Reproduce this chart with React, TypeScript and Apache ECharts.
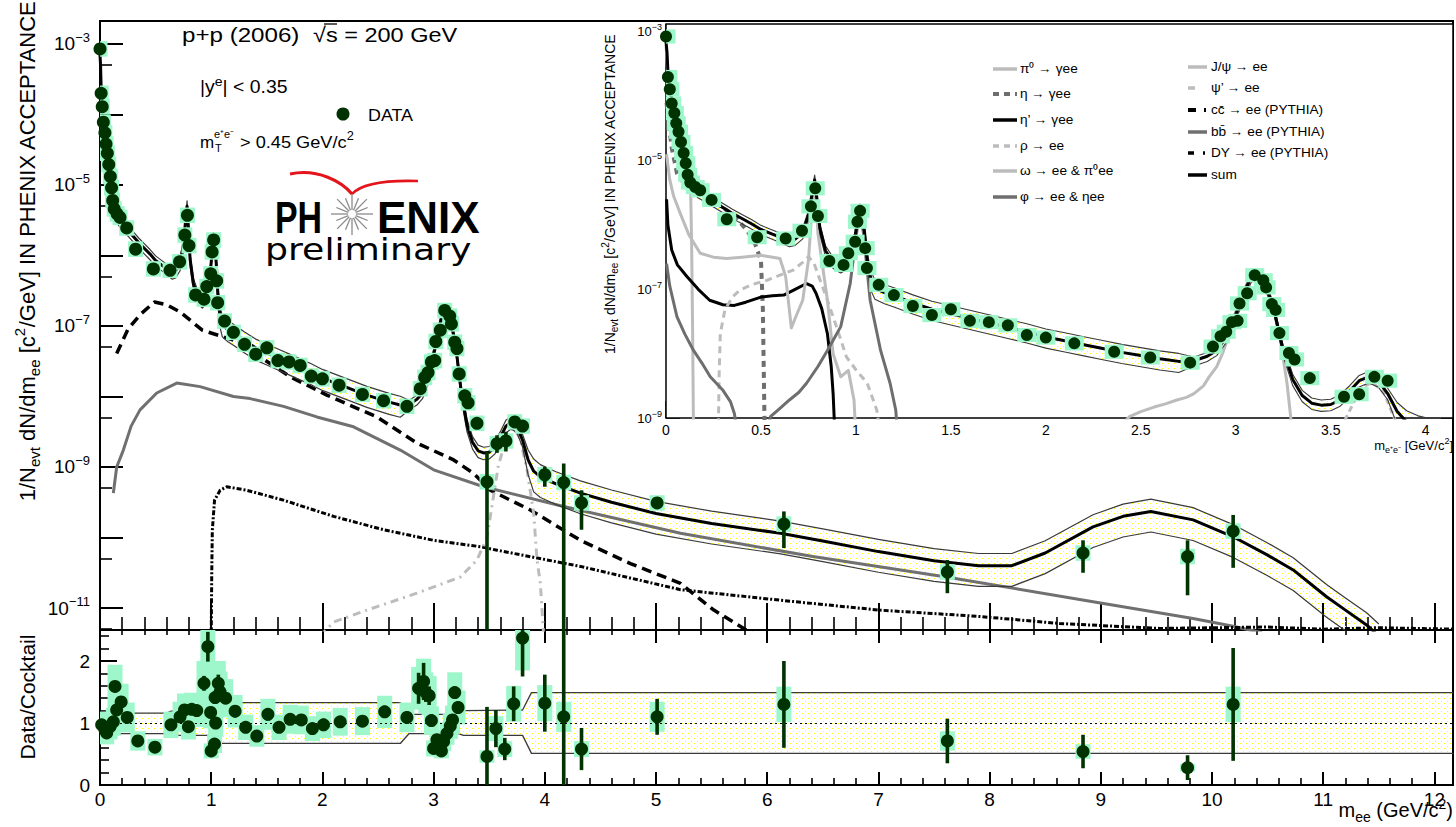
import React, { useEffect, useRef } from "react";
import * as echarts from "echarts";

const FONT = '"Liberation Sans", Arial, Helvetica, sans-serif';
const DARK = "#003300";
const MINT = "#9ef7cb";

// ---------------- values ----------------
// spectrum: [m_ee (GeV/c^2), log10(1/Nevt dN/dm_ee)]
const dataPoints = [
  [0, -3.07], [0.01, -3.7], [0.02, -3.89], [0.03, -4.11], [0.044, -4.26], [0.054, -4.42], [0.066, -4.55],
  [0.079, -4.71], [0.093, -4.88], [0.104, -5.04], [0.114, -5.22], [0.128, -5.34], [0.154, -5.41], [0.18, -5.46],
  [0.24, -5.61], [0.32, -5.91], [0.48, -6.19], [0.63, -6.21], [0.716, -6.09], [0.763, -5.71], [0.786, -5.43],
  [0.8, -5.86], [0.86, -6.56], [0.935, -6.62], [0.96, -6.44], [0.996, -6.26], [1.008, -5.95], [1.022, -5.78],
  [1.049, -6.36], [1.058, -6.67], [1.12, -6.93], [1.2, -7.09], [1.3, -7.26], [1.4, -7.4], [1.5, -7.31],
  [1.6, -7.49], [1.7, -7.51], [1.8, -7.56], [1.9, -7.71], [2.0, -7.75], [2.15, -7.84], [2.36, -7.97],
  [2.55, -8.06], [2.76, -8.14], [2.88, -7.89], [2.92, -7.73], [2.95, -7.66], [2.98, -7.51], [3.01, -7.49],
  [3.02, -7.22], [3.06, -7.06], [3.1, -6.78], [3.145, -6.86], [3.16, -6.97], [3.19, -7.23], [3.21, -7.32],
  [3.23, -7.68], [3.28, -7.99], [3.31, -8.09], [3.39, -8.38], [3.48, -9.21], [3.57, -8.67], [3.65, -8.63],
  [3.73, -8.36], [3.8, -8.42], [4.0, -9.11], [4.17, -9.22], [4.33, -9.51], [5.01, -9.51], [6.15, -9.81],
  [7.62, -10.49], [8.84, -10.22], [9.78, -10.27], [10.19, -9.91],
];
// visible statistical error bars: [m_ee, log10 low, log10 high]
const dataErrors = [
  [3.48, -11.5, -8.78], [3.57, -8.8, -8.55], [3.65, -8.78, -8.5], [4.0, -9.28, -9.0], [4.17, -11.5, -8.95],
  [4.33, -9.89, -9.33], [5.01, -9.57, -9.46], [6.15, -10.15, -9.63], [7.62, -10.79, -10.32],
  [8.84, -10.5, -10.04], [9.78, -10.82, -10.04], [10.19, -10.43, -9.68],
];
// cocktail sum
const sumCurve = [
  [0, -3.15], [0.005, -3.3], [0.01, -3.6], [0.02, -3.85], [0.03, -4.05], [0.04, -4.2], [0.06, -4.5], [0.08, -4.75],
  [0.1, -5.0], [0.12, -5.25], [0.14, -5.42], [0.17, -5.5], [0.2, -5.55], [0.25, -5.64], [0.3, -5.73], [0.35, -5.82],
  [0.4, -5.9], [0.45, -5.98], [0.5, -6.07], [0.55, -6.13], [0.6, -6.19], [0.65, -6.24], [0.68, -6.22], [0.72, -6.12],
  [0.75, -5.85], [0.77, -5.5], [0.783, -5.3], [0.795, -5.6], [0.81, -6.05], [0.84, -6.4], [0.88, -6.58],
  [0.92, -6.65], [0.95, -6.6], [0.98, -6.4], [1.0, -6.1], [1.01, -5.85], [1.02, -5.75], [1.03, -5.8], [1.045, -6.1],
  [1.06, -6.55], [1.08, -6.85], [1.1, -6.98], [1.15, -7.05], [1.2, -7.1], [1.3, -7.21], [1.4, -7.31], [1.5, -7.38],
  [1.6, -7.45], [1.7, -7.52], [1.8, -7.59], [1.9, -7.66], [2.0, -7.74], [2.1, -7.8], [2.2, -7.86], [2.3, -7.92],
  [2.4, -7.98], [2.5, -8.03], [2.6, -8.08], [2.7, -8.12], [2.78, -8.11], [2.85, -8.04], [2.9, -7.95], [2.95, -7.75],
  [3.0, -7.4], [3.05, -7.02], [3.08, -6.82], [3.1, -6.75], [3.13, -6.78], [3.16, -6.95], [3.2, -7.3], [3.25, -7.95],
  [3.3, -8.4], [3.35, -8.65], [3.4, -8.77], [3.45, -8.8], [3.5, -8.79], [3.55, -8.72], [3.6, -8.58], [3.65, -8.42],
  [3.7, -8.36], [3.75, -8.42], [3.8, -8.62], [3.85, -8.9], [3.9, -9.06], [3.96, -9.14], [4.1, -9.24], [4.32, -9.37],
  [4.6, -9.5], [5.0, -9.66], [5.5, -9.8], [6.12, -9.94], [6.5, -10.05], [7.0, -10.2], [7.5, -10.33], [7.9, -10.4],
  [8.2, -10.4], [8.5, -10.22], [8.93, -9.85], [9.2, -9.7], [9.45, -9.63], [9.83, -9.75], [10.19, -9.99],
  [10.5, -10.25], [10.73, -10.46], [11.03, -10.84], [11.2, -11.03], [11.39, -11.24], [11.5, -11.4],
];
// cocktail systematic band (ratio units)
const bandUpper = [
  [0, 1.16], [0.6, 1.16], [0.64, 1.19], [1.03, 1.19], [1.07, 1.33], [2.7, 1.33], [2.78, 1.14], [3.22, 1.14],
  [3.27, 1.2], [3.8, 1.21], [3.88, 1.49], [12.17, 1.49],
];
const bandLower = [
  [0, 0.83], [0.6, 0.83], [0.64, 0.8], [1.03, 0.8], [1.07, 0.67], [2.7, 0.67], [2.78, 0.83], [3.22, 0.83],
  [3.27, 0.8], [3.8, 0.8], [3.88, 0.51], [12.17, 0.51],
];
// heavy flavour and Drell-Yan (main panel)
const ccbar = [
  [0.15, -7.39], [0.25, -7.05], [0.36, -6.84], [0.49, -6.66], [0.6, -6.7], [0.72, -6.8], [0.92, -7.06], [1.2, -7.2],
  [1.45, -7.45], [1.71, -7.72], [2.04, -7.98], [2.49, -8.29], [2.85, -8.66], [3.18, -8.9], [3.36, -9.09],
  [3.51, -9.33], [3.87, -9.61], [4.32, -10.04], [4.77, -10.37], [5.22, -10.65], [5.52, -11.03], [5.79, -11.29],
  [5.9, -11.4],
];
const bbbar = [
  [0.12, -9.37], [0.15, -9.0], [0.21, -8.76], [0.28, -8.42], [0.36, -8.19], [0.51, -7.95], [0.69, -7.81],
  [0.9, -7.86], [1.2, -8.0], [1.35, -8.03], [1.65, -8.14], [1.95, -8.29], [2.28, -8.43], [2.7, -8.76], [3.0, -9.04],
  [3.45, -9.28], [4.17, -9.56], [5.22, -9.94], [6.41, -10.27], [7.61, -10.56], [8.93, -10.91], [9.83, -11.15],
  [10.19, -11.26], [10.45, -11.35],
];
const drellYan = [
  [1.0, -11.4], [1.005, -10.5], [1.01, -9.9], [1.03, -9.47], [1.08, -9.33], [1.14, -9.28], [1.32, -9.33],
  [1.65, -9.47], [2.1, -9.7], [2.55, -9.89], [3.0, -10.04], [3.42, -10.13], [3.57, -10.18], [4.32, -10.41],
  [5.22, -10.74], [6.12, -10.89], [7.01, -11.03], [7.91, -11.12], [8.63, -11.22], [9.53, -11.29], [10.5, -11.27],
  [11.0, -11.3], [11.5, -11.28], [12.17, -11.3],
];
const jpsi = [
  [2.3, -9.4], [2.44, -8.98], [2.5, -8.9], [2.57, -8.83], [2.63, -8.78], [2.69, -8.72], [2.74, -8.68], [2.78, -8.62],
  [2.83, -8.5], [2.86, -8.36], [2.9, -8.2], [2.93, -8.0], [2.96, -7.75], [2.99, -7.43], [3.03, -7.1], [3.06, -6.91],
  [3.1, -6.72], [3.13, -6.78], [3.16, -6.91], [3.2, -7.3], [3.23, -7.69], [3.27, -8.46], [3.29, -9.0], [3.31, -9.5],
];
const psiPrime = [
  [1.98, -11.4], [2.1, -11.2], [2.4, -11.03], [2.85, -10.79], [3.24, -10.56], [3.39, -10.32], [3.48, -10.0],
  [3.53, -9.5], [3.58, -9.0], [3.63, -8.71], [3.68, -8.5], [3.72, -8.45], [3.78, -8.6], [3.84, -9.04], [3.9, -9.66],
  [3.93, -10.32], [3.96, -10.65], [3.99, -11.4],
];
// hadronic cocktail (inset)
const pi0 = [
  [0, -3.2], [0.01, -3.65], [0.02, -3.9], [0.04, -4.25], [0.06, -4.55], [0.08, -4.8], [0.1, -5.05], [0.12, -5.3],
  [0.13, -5.5], [0.135, -6.3], [0.14, -7.6], [0.145, -9.3],
];
const eta = [
  [0.003, -4.1], [0.01, -4.32], [0.03, -4.8], [0.058, -5.2], [0.1, -5.38], [0.15, -5.45], [0.2, -5.53], [0.25, -5.63],
  [0.3, -5.73], [0.36, -5.86], [0.43, -6.1], [0.47, -6.3], [0.5, -6.55], [0.51, -7.3], [0.52, -9.3],
];
const etaPrime = [
  [0.003, -5.6], [0.01, -6.0], [0.03, -6.39], [0.06, -6.62], [0.11, -6.8], [0.17, -7.0], [0.23, -7.17], [0.3, -7.24],
  [0.36, -7.25], [0.42, -7.2], [0.5, -7.12], [0.56, -7.1], [0.62, -7.09], [0.68, -7.0], [0.74, -6.91], [0.77, -6.95],
  [0.79, -7.06], [0.82, -7.3], [0.85, -7.69], [0.87, -8.2], [0.88, -8.62], [0.89, -9.3],
];
const rho = [
  [0.275, -9.3], [0.28, -8.3], [0.286, -7.69], [0.31, -7.32], [0.35, -7.12], [0.39, -7.01], [0.45, -6.93],
  [0.53, -6.86], [0.6, -6.78], [0.67, -6.7], [0.72, -6.58], [0.75, -6.49], [0.78, -6.6], [0.85, -7.17], [0.9, -7.6],
  [0.95, -8.05], [1.0, -8.25], [1.06, -8.46], [1.11, -8.88], [1.13, -9.3],
];
const omega = [
  [0.003, -4.9], [0.02, -5.3], [0.04, -5.55], [0.075, -5.82], [0.12, -6.15], [0.18, -6.44], [0.25, -6.5],
  [0.32, -6.52], [0.4, -6.5], [0.5, -6.47], [0.6, -6.52], [0.63, -6.8], [0.66, -7.6], [0.69, -7.38], [0.72, -7.17],
  [0.75, -6.55], [0.77, -5.7], [0.78, -5.4], [0.79, -5.6], [0.8, -6.13], [0.85, -7.17], [0.88, -8.0], [0.92, -8.36],
  [0.96, -8.26], [0.99, -8.72], [1.0, -9.3],
];
const phi = [
  [0.003, -6.6], [0.02, -6.95], [0.058, -7.43], [0.1, -7.7], [0.145, -7.95], [0.19, -8.15], [0.233, -8.36],
  [0.3, -8.57], [0.34, -8.75], [0.36, -8.93], [0.38, -9.3], [0.45, -9.6], [0.53, -9.3], [0.55, -8.98], [0.6, -8.85],
  [0.65, -8.72], [0.7, -8.6], [0.74, -8.46], [0.8, -8.2], [0.85, -7.95], [0.92, -7.58], [0.97, -6.91], [1.0, -6.2],
  [1.02, -5.77], [1.04, -6.13], [1.075, -7.17], [1.13, -7.95], [1.18, -8.46], [1.21, -8.88], [1.22, -9.3],
];
// ratio panel: [m_ee, data/cocktail, stat error]
const ratioPoints = [
  [0.015, 0.97, 0.05], [0.045, 0.89, 0.05], [0.06, 0.84, 0.05], [0.09, 0.94, 0.05], [0.12, 1.02, 0.05],
  [0.135, 1.59, 0.08], [0.15, 1.21, 0.06], [0.19, 1.34, 0.06], [0.245, 1.09, 0.06], [0.34, 0.71, 0.05],
  [0.494, 0.61, 0.05], [0.638, 0.97, 0.06], [0.72, 1.1, 0.06], [0.76, 1.21, 0.06], [0.795, 0.94, 0.06],
  [0.825, 1.22, 0.06], [0.87, 1.2, 0.06], [0.935, 1.64, 0.12], [0.97, 2.23, 0.24], [0.995, 1.17, 0.1],
  [1.0, 0.55, 0.06], [1.03, 0.66, 0.06], [1.04, 1.0, 0.06], [1.035, 1.41, 0.1], [1.064, 1.64, 0.14],
  [1.08, 1.5, 0.08], [1.13, 1.4, 0.08], [1.215, 1.19, 0.1], [1.31, 0.93, 0.08], [1.41, 0.79, 0.08],
  [1.51, 1.14, 0.1], [1.61, 0.93, 0.08], [1.71, 1.06, 0.08], [1.81, 1.05, 0.08], [1.91, 0.91, 0.08],
  [2.01, 0.97, 0.1], [2.16, 1.02, 0.08], [2.36, 1.03, 0.08], [2.56, 1.18, 0.1], [2.76, 1.09, 0.1],
  [2.865, 1.56, 0.25], [2.91, 1.67, 0.3], [2.93, 1.49, 0.15], [2.96, 1.44, 0.15], [2.98, 1.04, 0.1],
  [3.0, 0.59, 0.05], [3.03, 0.73, 0.05], [3.07, 0.55, 0.05], [3.09, 0.7, 0.05], [3.12, 0.83, 0.05],
  [3.15, 0.95, 0.06], [3.17, 1.05, 0.06], [3.19, 1.49, 0.1], [3.22, 1.25, 0.1], [3.48, 0.46, 0.8],
  [3.56, 0.91, 0.3], [3.64, 0.58, 0.18], [3.72, 1.31, 0.28], [3.8, 2.37, 0.62], [4.0, 1.32, 0.46],
  [4.17, 1.1, 1.6], [4.33, 0.58, 0.34], [5.01, 1.1, 0.29], [6.15, 1.3, 0.7], [7.62, 0.71, 0.36],
  [8.84, 0.54, 0.27], [9.78, 0.28, 0.2], [10.19, 1.3, 0.91],
];

// ---------------- helpers ----------------
function interp(arr: number[][], x: number) {
  if (x <= arr[0][0]) return arr[0][1];
  for (let i = 1; i < arr.length; i++) {
    if (x <= arr[i][0]) {
      const [x0, y0] = arr[i - 1];
      const [x1, y1] = arr[i];
      return y0 + ((y1 - y0) * (x - x0)) / (x1 - x0);
    }
  }
  return arr[arr.length - 1][1];
}

function dotPattern() {
  const c = document.createElement("canvas");
  c.width = 6;
  c.height = 5;
  const g = c.getContext("2d")!;
  g.fillStyle = "#ffff00";
  g.fillRect(1, 1, 1, 1);
  g.fillRect(4, 3, 1, 1);
  return { image: c, repeat: "repeat", imageWidth: 6, imageHeight: 5 };
}

function richSet(size: number) {
  return {
    n: { fontSize: size, fontFamily: FONT, lineHeight: Math.round(size * 1.35), verticalAlign: "middle", fill: "#000", color: "#000" },
    sub: { fontSize: Math.round(size * 0.7), fontFamily: FONT, lineHeight: Math.round(size * 0.62), verticalAlign: "bottom", fill: "#000", color: "#000" },
    sup: { fontSize: Math.round(size * 0.7), fontFamily: FONT, lineHeight: Math.round(size * 0.5), verticalAlign: "top", fill: "#000", color: "#000" },
  };
}

function T(x: number, y: number, text: string, size: number, o: any = {}) {
  return {
    type: "text",
    x,
    y,
    z: 100,
    silent: true,
    scaleX: o.sx ?? 1,
    rotation: o.rot ?? 0,
    style: {
      text,
      fill: o.color ?? "#000",
      fontSize: size,
      fontFamily: o.family ?? FONT,
      fontWeight: o.weight ?? "normal",
      align: o.align ?? "left",
      verticalAlign: "middle",
      rich: o.rich,
    },
  };
}

function buildOption() {
  const pattern = dotPattern();
  const MX = [0, 12.167];
  const MY = [-11.312, -2.674];
  const RY = [0, 2.5];
  const IX = [0, 4.144];
  const IY = [-9, -2.876];
  const L5 = Math.log10(5);

  const steps = (a: number, b: number, s: number) => {
    const o: number[] = [];
    const n = Math.round((b - a) / s);
    for (let i = 0; i <= n; i++) o.push(+(a + i * s).toFixed(4));
    return o;
  };
  const inR = (arr: number[], r: number[]) => arr.filter((v) => v >= r[0] - 1e-9 && v <= r[1] + 1e-9);
  const isMult = (v: number, s: number) => Math.abs(v / s - Math.round(v / s)) < 1e-6;

  const mainXMajor = steps(0, 12, 1);
  const mainXMinor = inR(steps(0, 12.2, 0.2), MX).filter((v) => !isMult(v, 1));
  const mainYMajor = steps(-11, -3, 1);
  const mainYMinor = inR(steps(-12, -3, 1).map((v) => v + L5), MY);
  const ratioYMinor = steps(0, 2.4, 0.2).filter((v) => !isMult(v, 1));
  const insetXMajor = steps(0, 4, 0.5);
  const insetXMinor = inR(steps(0, 4.1, 0.1), IX).filter((v) => !isMult(v, 0.5));
  const insetYMajor = steps(-9, -3, 1);
  const insetYMinor = inR(steps(-9, -3, 1).map((v) => v + L5), IY);

  const expFmt = (v: number) => `{b|10}{s|${v < 0 ? "\u2212" + Math.abs(v) : v}}`;

  const ax = (grid: number, r: number[], pos: string, ticks: number[], len: number, w: number, label?: any) => ({
    type: "value",
    gridIndex: grid,
    min: r[0],
    max: r[1],
    position: pos,
    axisLine: { show: false, onZero: false },
    splitLine: { show: false },
    minorTick: { show: false },
    minorSplitLine: { show: false },
    axisPointer: { show: false },
    axisTick: { show: true, inside: true, length: len, customValues: ticks, lineStyle: { color: "#000", width: w } },
    axisLabel: label
      ? { show: true, showMinLabel: true, showMaxLabel: true, color: "#000", fontFamily: FONT, ...label }
      : { show: false },
  });

  const xAxis = [
    ax(0, MX, "bottom", mainXMajor, 27, 2),
    ax(0, MX, "bottom", mainXMinor, 13, 1.6),
    ax(1, MX, "bottom", mainXMajor, 13, 2, { customValues: mainXMajor, fontSize: 19, margin: 5 }),
    ax(1, MX, "bottom", mainXMinor, 7, 1.6),
    ax(1, MX, "top", mainXMajor, 13, 2),
    ax(1, MX, "top", mainXMinor, 5, 1.6),
    ax(2, IX, "bottom", insetXMajor, 17, 1.5, { customValues: insetXMajor, fontSize: 14, margin: 5 }),
    ax(2, IX, "bottom", insetXMinor, 8, 1.2),
    ax(2, IX, "top", insetXMajor, 17, 1.5),
    ax(2, IX, "top", insetXMinor, 7, 1.2),
  ];
  const yAxis = [
    ax(0, MY, "left", mainYMajor, 23, 2, {
      customValues: [-11, -9, -7, -5, -3],
      formatter: expFmt,
      margin: 10,
      rich: {
        b: { fontSize: 19, lineHeight: 26, fontFamily: FONT, color: "#000" },
        s: { fontSize: 13, lineHeight: 10, verticalAlign: "top", fontFamily: FONT, color: "#000" },
      },
    }),
    ax(0, MY, "left", mainYMinor, 12, 1.6),
    ax(1, RY, "left", [0, 1, 2], 17, 2, { customValues: [0, 1, 2], fontSize: 19, margin: 10 }),
    ax(1, RY, "left", ratioYMinor, 9, 1.6),
    ax(2, IY, "left", insetYMajor, 14, 1.5, {
      customValues: [-9, -7, -5, -3],
      formatter: expFmt,
      margin: 4,
      rich: {
        b: { fontSize: 13, lineHeight: 18, fontFamily: FONT, color: "#000" },
        s: { fontSize: 9, lineHeight: 7, verticalAlign: "top", fontFamily: FONT, color: "#000" },
      },
    }),
    ax(2, IY, "left", insetYMinor, 7, 1.2),
    ax(2, IY, "right", insetYMajor, 12, 1.5),
    ax(2, IY, "right", insetYMinor, 6, 1.2),
  ];

  const ln = (data: number[][], xi: number, yi: number, color: string, width: number, type: any = "solid", z = 2) => ({
    type: "line",
    xAxisIndex: xi,
    yAxisIndex: yi,
    data,
    symbol: "none",
    showSymbol: false,
    silent: true,
    clip: true,
    z,
    lineStyle: { color, width, type, cap: "butt", join: "round" },
  });

  const bandPoly = (upper: number[][], lower: number[][], xi: number, yi: number) => ({
    type: "custom",
    xAxisIndex: xi,
    yAxisIndex: yi,
    clip: true,
    silent: true,
    z: 1,
    data: [[upper[0][0], upper[0][1]]],
    renderItem: (_p: any, api: any) => ({
      type: "polygon",
      shape: {
        points: upper.map((p) => api.coord(p)).concat(lower.slice().reverse().map((p) => api.coord(p))),
      },
      style: { fill: pattern, stroke: "none" },
    }),
  });

  const boxes = (data: number[][], xi: number, yi: number, hw: number, hFn: (y: number) => number) => ({
    type: "custom",
    xAxisIndex: xi,
    yAxisIndex: yi,
    clip: true,
    silent: true,
    z: 3,
    data,
    renderItem: (_p: any, api: any) => {
      const x = api.value(0);
      const y = api.value(1);
      const h = hFn(y);
      const a = api.coord([x, y + h]);
      const b = api.coord([x, y - h]);
      return { type: "rect", shape: { x: a[0] - hw, y: a[1], width: 2 * hw, height: b[1] - a[1] }, style: { fill: MINT } };
    },
  });

  const bars = (data: number[][], xi: number, yi: number, ratio: boolean) => ({
    type: "custom",
    xAxisIndex: xi,
    yAxisIndex: yi,
    clip: true,
    silent: true,
    z: 4,
    data,
    renderItem: (_p: any, api: any) => {
      const x = api.value(0);
      let lo: number, hi: number;
      if (ratio) {
        lo = api.value(1) - api.value(2);
        hi = api.value(1) + api.value(2);
      } else {
        lo = api.value(1);
        hi = api.value(2);
      }
      const a = api.coord([x, hi]);
      const b = api.coord([x, lo]);
      return { type: "line", shape: { x1: a[0], y1: a[1], x2: b[0], y2: b[1] }, style: { stroke: DARK, lineWidth: 3.6 } };
    },
  });

  const pts = (data: number[][], xi: number, yi: number, size: number) => ({
    type: "scatter",
    xAxisIndex: xi,
    yAxisIndex: yi,
    data,
    symbol: "circle",
    symbolSize: size,
    silent: true,
    clip: true,
    z: 5,
    itemStyle: { color: DARK, opacity: 1 },
  });

  // band envelopes of the cocktail sum (sum x systematic factor)
  const sumUpper = sumCurve.map(([x, y]) => [x, y + Math.log10(interp(bandUpper, x))]);
  const sumLower = sumCurve.map(([x, y]) => [x, y + Math.log10(interp(bandLower, x))]);

  const LG = "#bcbcbc";
  const DG = "#6e6e6e";

  const series: any[] = [
    // ---- main panel ----
    bandPoly(sumUpper, sumLower, 0, 0),
    ln(ccbar, 0, 0, "#000", 3.5, [10, 6]),
    ln(bbbar, 0, 0, "#707070", 3),
    ln(drellYan, 0, 0, "#000", 3, [5, 2, 2, 2]),
    ln(psiPrime, 0, 0, LG, 3, [8, 5, 2, 5]),
    ln(sumUpper, 0, 0, "#3a3a3a", 1.2),
    ln(sumLower, 0, 0, "#3a3a3a", 1.2),
    ln(sumCurve, 0, 0, "#000", 3),
    boxes(dataPoints, 0, 0, 7.5, () => 0.11),
    bars(dataErrors, 0, 0, false),
    pts(dataPoints, 0, 0, 13),
    // ---- ratio panel ----
    bandPoly(bandUpper, bandLower, 2, 2),
    {
      ...ln(bandUpper, 2, 2, "#3a3a3a", 1.3),
      markLine: {
        silent: true,
        symbol: "none",
        label: { show: false },
        lineStyle: { type: [2, 3], color: "#000", width: 1 },
        data: [{ yAxis: 1 }],
      },
    },
    ln(bandLower, 2, 2, "#3a3a3a", 1.3),
    boxes(ratioPoints, 2, 2, 7.5, (y) => 0.22 * y),
    bars(ratioPoints, 2, 2, true),
    pts(ratioPoints, 2, 2, 13),
    // ---- inset ----
    ln(pi0, 6, 4, LG, 3, "solid", 6),
    ln(eta, 6, 4, DG, 4, [6, 5], 6),
    ln(etaPrime, 6, 4, "#000", 3, "solid", 6),
    ln(rho, 6, 4, LG, 3, [7, 5], 6),
    ln(omega, 6, 4, LG, 3, "solid", 6),
    ln(phi, 6, 4, DG, 3, "solid", 6),
    ln(jpsi, 6, 4, LG, 3, "solid", 6),
    ln(psiPrime, 6, 4, LG, 3, [6, 4], 6),
    { ...bandPoly(sumUpper, sumLower, 6, 4), z: 6 },
    ln(sumUpper, 6, 4, "#3a3a3a", 1.1, "solid", 7),
    ln(sumLower, 6, 4, "#3a3a3a", 1.1, "solid", 7),
    ln(sumCurve, 6, 4, "#000", 3, "solid", 7),
    { ...boxes(dataPoints, 6, 4, 9.5, () => 0.11), z: 8 },
    { ...pts(dataPoints, 6, 4, 12), z: 9 },
  ];

  // ---------------- annotations ----------------
  const g: any[] = [];
  g.push(
    T(27, 251, "{n|1/N}{sub|evt}{n| dN/dm}{sub|ee}{n| [c}{sup|2}{n|/GeV] IN PHENIX ACCEPTANCE}", 22, {
      rot: Math.PI / 2,
      align: "center",
      rich: richSet(22),
    })
  );
  g.push(T(27, 697, "Data/Cocktail", 21, { rot: Math.PI / 2, align: "center" }));
  g.push(T(1453, 810, "{n|m}{sub|ee}{n| (GeV/c}{sup|2}{n|)}", 20, { align: "right", rich: richSet(20) }));

  // header texts
  g.push(T(182, 35, "p+p (2006)", 21, { sx: 1.15 }));
  g.push(T(313, 35, "\u221As = 200 GeV", 21, { sx: 1.12 }));
  g.push({ type: "line", z: 100, silent: true, shape: { x1: 324, y1: 24, x2: 337, y2: 24 }, style: { stroke: "#000", lineWidth: 1.3 } });
  g.push(T(200, 87, "{n||y}{sup|e}{n|| < 0.35}", 18, { sx: 1.08, rich: richSet(18) }));
  g.push({ type: "circle", z: 100, silent: true, shape: { cx: 343, cy: 114, r: 6.5 }, style: { fill: DARK } });
  g.push(T(368, 115, "DATA", 17, { sx: 1.05 }));
  g.push(T(200, 142, "m", 17));
  g.push(T(214, 134, "e\u207Ae\u207B", 11));
  g.push(T(215, 148, "T", 11));
  g.push(T(240, 142, "{n|> 0.45 GeV/c}{sup|2}", 17, { sx: 1.07, rich: richSet(17) }));

  // PHENIX logo
  g.push(T(275, 217, "PH", 44, { weight: "bold", sx: 0.77 }));
  g.push(T(377, 217, "ENIX", 44, { weight: "bold", sx: 1.0 }));
  for (let i = 0; i < 16; i++) {
    const a = (i * Math.PI) / 8;
    const rr = i % 2 === 0 ? 21 : 17;
    g.push({
      type: "line",
      z: 100,
      silent: true,
      shape: { x1: 352 + 4 * Math.cos(a), y1: 214 + 4 * Math.sin(a), x2: 352 + rr * Math.cos(a), y2: 214 + rr * Math.sin(a) },
      style: { stroke: "#8c8c8c", lineWidth: 1.3 },
    });
  }
  g.push({
    type: "bezierCurve",
    z: 100,
    silent: true,
    shape: { x1: 290, y1: 174, cpx1: 318, cpy1: 168, cpx2: 342, cpy2: 182, x2: 352, y2: 194 },
    style: { stroke: "#e3141c", lineWidth: 3, fill: "none" },
  });
  g.push({
    type: "bezierCurve",
    z: 100,
    silent: true,
    shape: { x1: 352, y1: 194, cpx1: 362, cpy1: 183, cpx2: 385, cpy2: 180, x2: 418, y2: 181 },
    style: { stroke: "#e3141c", lineWidth: 2.6, fill: "none" },
  });
  g.push(T(265, 249, "preliminary", 31, { family: '"DejaVu Sans", sans-serif', sx: 1.17 }));

  // inset titles
  g.push(
    T(610, 194, "{n|1/N}{sub|evt}{n| dN/dm}{sub|ee}{n| [c}{sup|2}{n|/GeV] IN PHENIX ACCEPTANCE}", 14, {
      rot: Math.PI / 2,
      align: "center",
      rich: richSet(14),
    })
  );
  g.push(T(1453, 445, "{n|m}{sub|e\u207Ae\u207B}{n| [GeV/c}{sup|2}{n|]}", 13, { align: "right", rich: richSet(13) }));

  // inset legend
  const leftCol = [
    { t: "\u03C0\u2070 \u2192 \u03B3ee", c: LG, w: 3.5, d: null },
    { t: "\u03B7 \u2192 \u03B3ee", c: DG, w: 4, d: [6, 5] },
    { t: "\u03B7\u2019 \u2192 \u03B3ee", c: "#000", w: 3.5, d: null },
    { t: "\u03C1 \u2192 ee", c: LG, w: 3.5, d: [6, 5] },
    { t: "\u03C9 \u2192 ee & \u03C0\u2070ee", c: LG, w: 3.5, d: null },
    { t: "\u03C6 \u2192 ee & \u03B7ee", c: DG, w: 3.5, d: null },
  ];
  const leftY = [69, 94, 120, 146, 171, 197];
  leftCol.forEach((it, i) => {
    g.push({
      type: "line",
      z: 100,
      silent: true,
      shape: { x1: 993, y1: leftY[i], x2: 1017, y2: leftY[i] },
      style: { stroke: it.c, lineWidth: it.w, lineDash: it.d },
    });
    g.push(T(1020, leftY[i], it.t, 13, { sx: 1.05 }));
  });
  const rightCol = [
    { t: "J/\u03C8 \u2192 ee", c: LG, w: 3.5, d: null, x2: 1207 },
    { t: "\u03C8\u2019 \u2192 ee", c: LG, w: 3.5, d: null, x2: 1195 },
    { t: "cc\u0304 \u2192 ee (PYTHIA)", c: "#000", w: 4, d: [8, 8, 2, 20], x2: 1207 },
    { t: "bb\u0304 \u2192 ee (PYTHIA)", c: "#707070", w: 3.5, d: null, x2: 1207 },
    { t: "DY \u2192 ee (PYTHIA)", c: "#000", w: 3.5, d: [6, 9, 2, 20], x2: 1207 },
    { t: "sum", c: "#000", w: 3.5, d: null, x2: 1207 },
  ];
  const rightY = [67, 88, 110, 132, 153, 175];
  rightCol.forEach((it, i) => {
    g.push({
      type: "line",
      z: 100,
      silent: true,
      shape: { x1: 1188, y1: rightY[i], x2: it.x2, y2: rightY[i] },
      style: { stroke: it.c, lineWidth: it.w, lineDash: it.d },
    });
    g.push(T(1211, rightY[i], it.t, 13, { sx: 1.05 }));
  });

  return {
    animation: false,
    backgroundColor: "#fff",
    textStyle: { fontFamily: FONT },
    grid: [
      { left: 100, top: 21, width: 1353, height: 609, show: true, borderColor: "#000", borderWidth: 2, backgroundColor: "transparent", containLabel: false, outerBoundsMode: "none" },
      { left: 100, top: 630, width: 1353, height: 155, show: true, borderColor: "#000", borderWidth: 2, backgroundColor: "transparent", containLabel: false, outerBoundsMode: "none" },
      { left: 666, top: 24, width: 787, height: 394, show: true, borderColor: "#000", borderWidth: 1.5, backgroundColor: "#fff", containLabel: false, outerBoundsMode: "none", z: 5 },
    ],
    xAxis,
    yAxis,
    series,
    graphic: { elements: g },
  };
}

export default function App() {
  const ref = useRef<HTMLDivElement>(null);
  useEffect(() => {
    const chart = echarts.init(ref.current!, null, { renderer: "svg" });
    chart.setOption(buildOption() as any);
    return () => chart.dispose();
  }, []);
  return (
    <div
      ref={ref}
      style={{ position: "fixed", left: 0, top: 0, width: 1456, height: 827, background: "#fff" }}
    />
  );
}
